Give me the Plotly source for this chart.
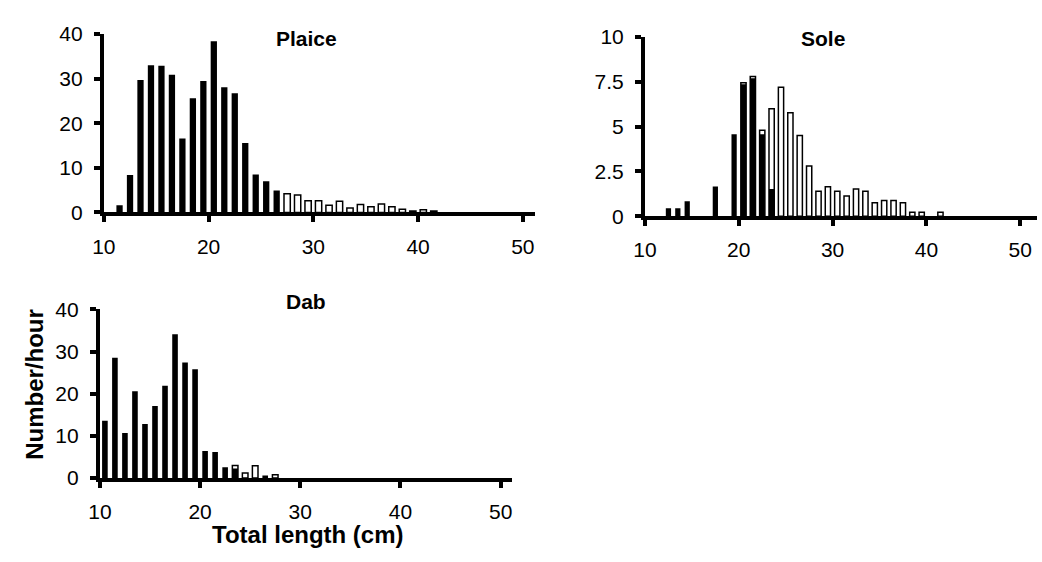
import plotly.graph_objects as go

# ---------------- data (length class in cm, number/hour) ----------------
plaice_len = [11, 12, 13, 14, 15, 16, 17, 18, 19, 20, 21, 22, 23, 24, 25, 26,
              27, 28, 29, 30, 31, 32, 33, 34, 35, 36, 37, 38, 39, 40, 41]
plaice_black = [1.6, 8.4, 29.7, 33.0, 32.9, 30.9, 16.6, 25.6, 29.5, 38.4, 28.1, 26.7, 15.6, 8.5, 7.0, 4.9,
                None, None, None, None, None, None, None, None, None, None, None, None, None, None, None]
plaice_white = [None, None, None, None, None, None, None, None, None, None, None, None, None, None, None, None,
                4.2, 3.9, 2.6, 2.6, 1.6, 2.5, 1.0, 1.8, 1.3, 1.9, 1.3, 0.7, 0.3, 0.6, 0.3]

sole_len = [12, 13, 14, 17, 19, 20, 21, 22, 23, 24, 25, 26, 27, 28, 29, 30, 31, 32, 33, 34, 35, 36, 37, 38, 39, 41]
sole_black = [0.45, 0.45, 0.84, 1.66, 4.57, 7.36, 7.7, 4.57, 1.52, None, None, None, None, None, None, None,
              None, None, None, None, None, None, None, None, None, None]
sole_white = [None, None, None, None, None, 7.45, 7.8, 4.8, 6.0, 7.2, 5.77, 4.5, 2.8, 1.39, 1.64, 1.39,
              1.13, 1.52, 1.39, 0.75, 0.875, 0.875, 0.75, 0.23, 0.23, 0.23]

dab_len = [10, 11, 12, 13, 14, 15, 16, 17, 18, 19, 20, 21, 22, 23, 24, 25, 26, 27]
dab_black = [13.6, 28.5, 10.7, 20.6, 12.8, 17.1, 21.9, 34.1, 27.4, 25.8, 6.4, 6.2, 2.6, 2.3, None, None, 0.6, None]
dab_white = [None, None, None, None, None, None, None, None, None, None, None, None, None, 3.0, 1.2, 2.9, None, 0.8]

x_ticks = [10, 20, 30, 40, 50]
plaice_yticks = [0, 10, 20, 30, 40]
sole_yticks = [0, 2.5, 5, 7.5, 10]
sole_yticktext = ["0", "2.5", "5", "7.5", "10"]
dab_yticks = [0, 10, 20, 30, 40]

# ---------------- layout helpers ----------------
W, H = 1042, 562
FONT = "Liberation Sans, Arial, sans-serif"


def px_x(p):
    return p / W


def px_y(p):
    return 1 - p / H


def mids(lengths):
    return [l + 0.5 for l in lengths]


fig = go.Figure()

panels = [
    (plaice_len, plaice_black, plaice_white, "x", "y", 0.6),
    (sole_len, sole_black, sole_white, "x2", "y2", 0.56),
    (dab_len, dab_black, dab_white, "x3", "y3", 0.56),
]
for lens, blk, wht, xa, ya, bw in panels:
    fig.add_trace(go.Bar(x=mids(lens), y=wht, xaxis=xa, yaxis=ya, width=bw,
                         marker=dict(color="white", line=dict(color="black", width=1.5)),
                         showlegend=False, hoverinfo="x+y"))
    fig.add_trace(go.Bar(x=mids(lens), y=blk, xaxis=xa, yaxis=ya, width=bw,
                         marker=dict(color="black", line=dict(color="black", width=0)),
                         showlegend=False, hoverinfo="x+y"))

tickfont = dict(family=FONT, size=21, color="black")
common = dict(showline=True, linewidth=4, linecolor="black", ticks="outside", ticklen=6,
              tickwidth=4, tickcolor="black", showgrid=False, zeroline=False,
              tickfont=tickfont, fixedrange=True)

fig.update_layout(
    width=W, height=H, margin=dict(l=0, r=0, t=0, b=0),
    paper_bgcolor="white", plot_bgcolor="white", barmode="overlay",
    xaxis=dict(domain=[px_x(93), px_x(530)], range=[10, 51.2], anchor="y",
               tickvals=x_ticks, ticklabelstandoff=6, **common),
    yaxis=dict(domain=[px_y(209), px_y(23)], range=[0, 40], anchor="x",
               tickvals=plaice_yticks, ticklabelstandoff=7, **common),
    xaxis2=dict(domain=[px_x(641), px_x(1038)], range=[10, 51.8], anchor="y2",
                tickvals=x_ticks, ticklabelstandoff=6, **common),
    yaxis2=dict(domain=[px_y(213), px_y(26)], range=[0, 10], anchor="x2",
                tickvals=sole_yticks, ticktext=sole_yticktext, ticklabelstandoff=7, **common),
    xaxis3=dict(domain=[px_x(89), px_x(506)], range=[10, 51.1], anchor="y3",
                tickvals=x_ticks, ticklabelstandoff=6, **common),
    yaxis3=dict(domain=[px_y(486), px_y(310)], range=[0, 40], anchor="x3",
                tickvals=dab_yticks, ticklabelstandoff=7, **common),
)

title_font = dict(family=FONT, size=21, color="black")
for text, x, y in [("<b>Plaice</b>", 298, 28), ("<b>Sole</b>", 821, 28), ("<b>Dab</b>", 298, 302)]:
    fig.add_annotation(text=text, x=px_x(x), y=px_y(y), xref="paper", yref="paper",
                       showarrow=False, font=title_font, xanchor="center", yanchor="middle")

axis_title_font = dict(family=FONT, size=24, color="black")
fig.add_annotation(text="<b>Number/hour</b>", x=px_x(22), y=px_y(388), xref="paper", yref="paper",
                   showarrow=False, textangle=-90, font=axis_title_font,
                   xanchor="center", yanchor="middle")
fig.add_annotation(text="<b>Total length (cm)</b>", x=px_x(300), y=px_y(545), xref="paper", yref="paper",
                   showarrow=False, font=axis_title_font, xanchor="center", yanchor="middle")

fig.write_html("out.html")
